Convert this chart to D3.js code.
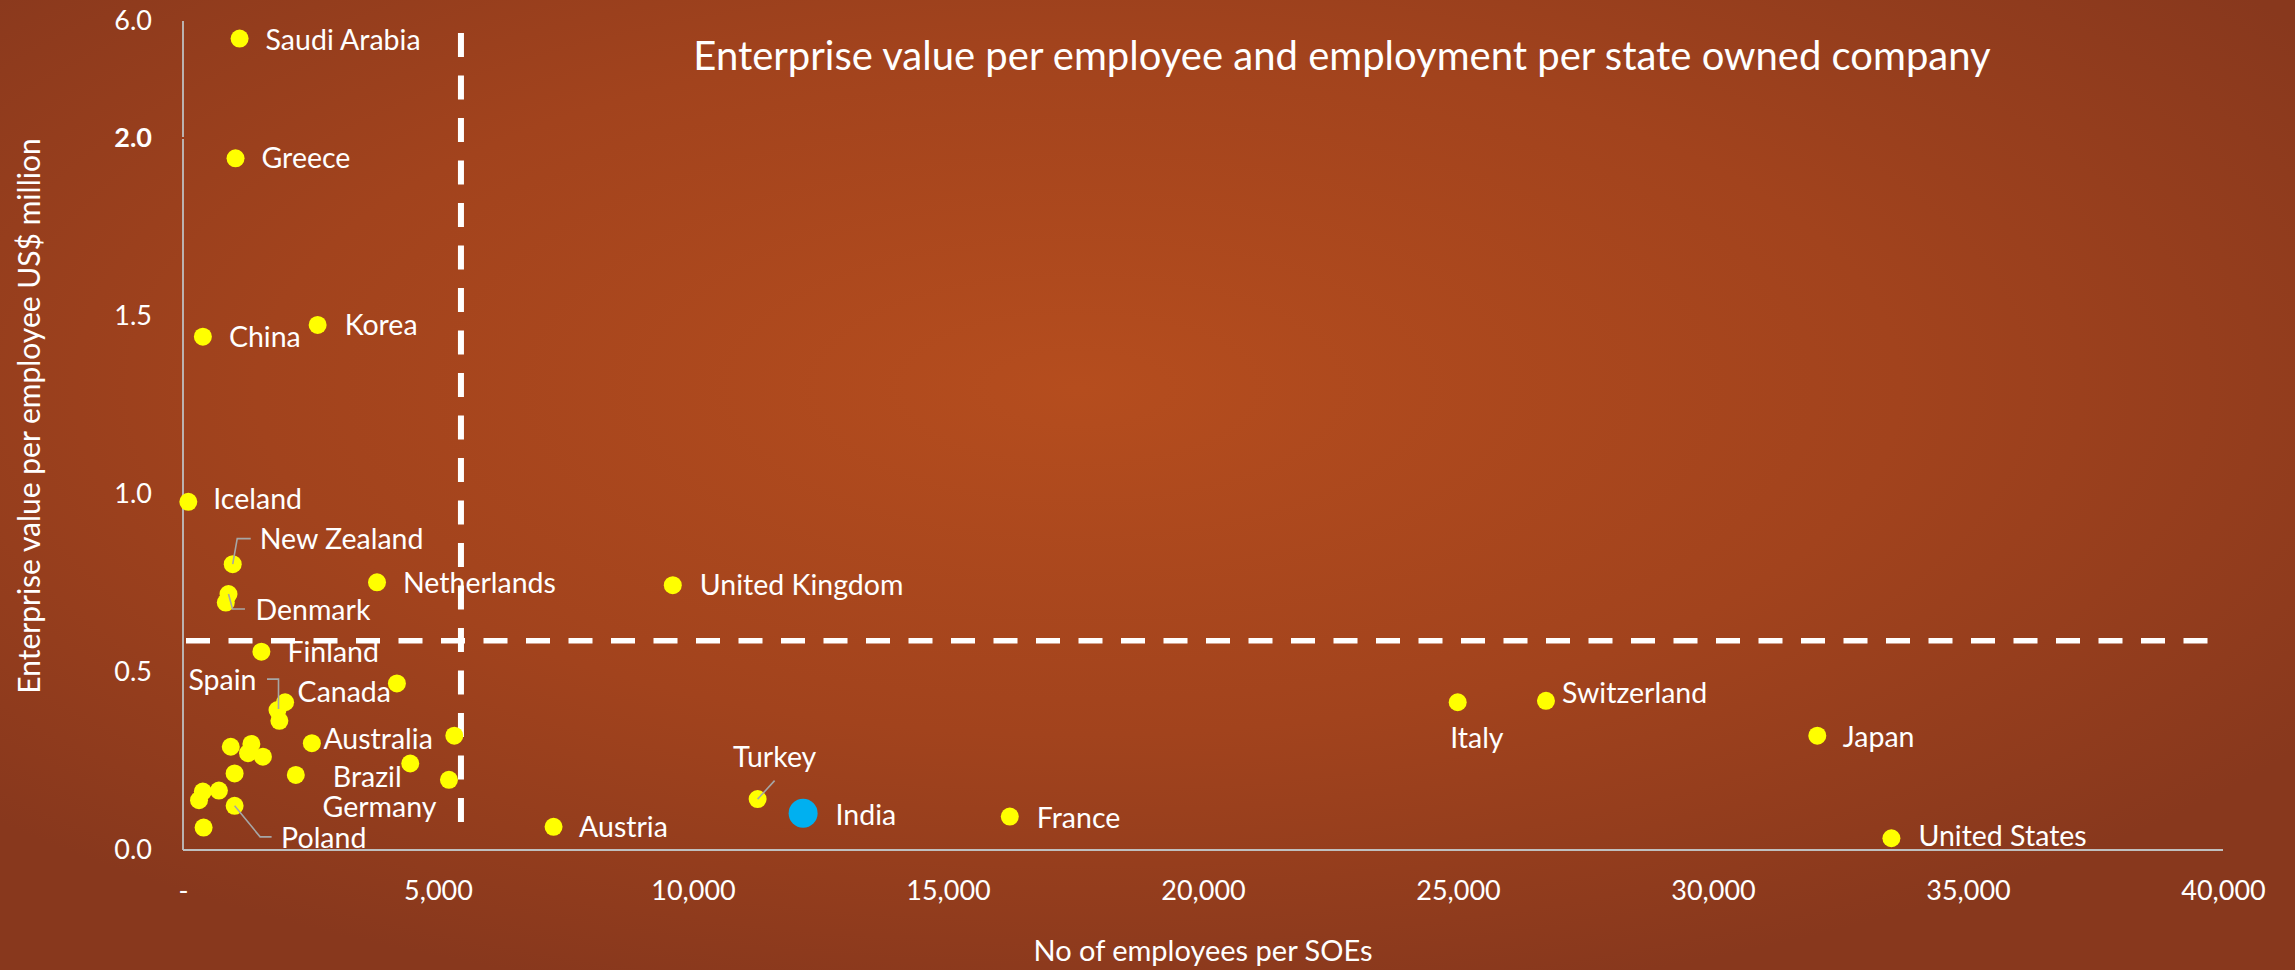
<!DOCTYPE html>
<html>
<head>
<meta charset="utf-8">
<script src="https://cdn.jsdelivr.net/npm/d3@7"></script>
<style>
  html, body { margin: 0; padding: 0; background: #8c3a1d; }
  svg { display: block; }
  text { font-family: Lato, "Open Sans", sans-serif; fill: #ffffff; }
</style>
</head>
<body>
<svg id="chart" width="2295" height="970"></svg>
<script>
// Country labels ("" = unlabelled point)
const countries = [
  "Saudi Arabia", "Greece", "China", "Korea", "Iceland", "New Zealand",
  "Denmark", "", "Netherlands", "United Kingdom", "Finland", "Spain", "",
  "Canada", "", "Australia", "", "", "Brazil", "Germany",
  "", "", "", "", "", "", "", "", "Poland", "",
  "Austria", "Turkey", "India", "France", "Italy", "Switzerland", "Japan",
  "United States"
];
// No of employees per SOE
const employees = [
  1110, 1030, 390, 2640, 104, 975,
  892, 839, 3804, 9604, 1537, 1853, 1890,
  2002, 4194, 2527, 5320, 4456, 2212, 5215,
  937, 1341, 1275, 1567, 1012, 389, 314, 704, 1012, 404,
  7266, 11267, 12159, 16212, 24994, 26725, 32045,
  33498
];
// Enterprise value per employee, US$ million
const evPerEmployee = [
  5.4, 1.943, 1.442, 1.475, 0.978, 0.803,
  0.719, 0.695, 0.752, 0.744, 0.557, 0.393, 0.363,
  0.415, 0.468, 0.300, 0.321, 0.243, 0.211, 0.197,
  0.290, 0.298, 0.272, 0.262, 0.215, 0.164, 0.140, 0.167, 0.124, 0.063,
  0.065, 0.143, 0.103, 0.094, 0.415, 0.419, 0.321,
  0.033
];
const highlighted = ["India"];

// Reference (average) lines
const avgEmployees = 5450;
const avgEV = 0.588;

// Axis ticks
const xTicks = [0, 5000, 10000, 15000, 20000, 25000, 30000, 35000, 40000];
const yTicks = [0, 0.5, 1.0, 1.5, 2.0, 6.0];

const title = "Enterprise value per employee and employment per state owned company";
const xTitle = "No of employees per SOEs";
const yTitle = "Enterprise value per employee US$ million";

const W = 2295, H = 970;
const svg = d3.select("#chart");

// background: radial orange glow
const defs = svg.append("defs");
const grad = defs.append("radialGradient").attr("id", "bg")
  .attr("cx", "47%").attr("cy", "40%").attr("r", "65%");
grad.append("stop").attr("offset", "0%").attr("stop-color", "#b54d1e");
grad.append("stop").attr("offset", "55%").attr("stop-color", "#a2431d");
grad.append("stop").attr("offset", "100%").attr("stop-color", "#88381d");
svg.append("rect").attr("width", W).attr("height", H).attr("fill", "url(#bg)");

// scales: y axis is broken above 2.0 (2 → 6 compressed)
const x = d3.scaleLinear().domain([0, 40000]).range([183, 2223]);
const y = d3.scaleLinear().domain([0, 2, 6]).range([850, 138, 21]);

// axis lines
const axisColor = "#bfbfbf";
svg.append("line").attr("x1", x(0)).attr("x2", x(40000))
  .attr("y1", y(0)).attr("y2", y(0))
  .attr("stroke", axisColor).attr("stroke-width", 1.8);
svg.append("line").attr("x1", x(0)).attr("x2", x(0))
  .attr("y1", y(0)).attr("y2", y(2) + 1)
  .attr("stroke", axisColor).attr("stroke-width", 1.8);
svg.append("line").attr("x1", x(0)).attr("x2", x(0))
  .attr("y1", y(2) - 1).attr("y2", y(6))
  .attr("stroke", axisColor).attr("stroke-width", 1.8);

// x axis tick labels
const xAxis = d3.axisBottom(x).tickValues(xTicks).tickSize(0).tickPadding(31)
  .tickFormat(d => d === 0 ? "-" : d3.format(",")(d));
const gx = svg.append("g").attr("transform", `translate(0,${y(0)})`).call(xAxis);
gx.select(".domain").remove();
gx.selectAll("text").attr("font-size", 27).attr("fill", "#fff")
  .style("font-family", "Lato, sans-serif");

// y axis tick labels
const yAxis = d3.axisLeft(y).tickValues(yTicks).tickSize(0).tickPadding(31)
  .tickFormat(d3.format(".1f"));
const gy = svg.append("g").attr("transform", `translate(${x(0)},0)`).call(yAxis);
gy.select(".domain").remove();
gy.selectAll("text").attr("font-size", 27).attr("fill", "#fff")
  .style("font-family", "Lato, sans-serif")
  .attr("font-weight", d => d === 2 ? 700 : 400);

// average reference lines
svg.append("line")
  .attr("x1", x(avgEmployees)).attr("x2", x(avgEmployees))
  .attr("y1", y(6) + 12).attr("y2", y(0) - 27)
  .attr("stroke", "#fff").attr("stroke-width", 6)
  .attr("stroke-dasharray", "24 18.5");
svg.append("line")
  .attr("x1", x(0) + 3).attr("x2", x(40000) + 2)
  .attr("y1", y(avgEV)).attr("y2", y(avgEV))
  .attr("stroke", "#fff").attr("stroke-width", 5.5)
  .attr("stroke-dasharray", "24 18.5");

// points
const points = countries.map((c, i) => ({ name: c, emp: employees[i], ev: evPerEmployee[i] }));

// label placement relative to the point: dx, dy to text start/baseline,
// optional anchor and leader line vertices
const labelLayout = {
  "Saudi Arabia": { dx: 26, dy: 11 },
  "Greece": { dx: 26, dy: 10 },
  "China": { dx: 26, dy: 10 },
  "Korea": { dx: 27, dy: 10 },
  "Iceland": { dx: 25, dy: 7.5 },
  "New Zealand": { dx: 27, dy: -15, leader: [[0, 0], [4.5, -25.5], [18, -25.5]] },
  "Denmark": { dx: 27, dy: 26, leader: [[0, 0], [4, 15], [16.5, 15]] },
  "Netherlands": { dx: 26, dy: 11 },
  "United Kingdom": { dx: 27, dy: 10 },
  "Finland": { dx: 26, dy: 10.5 },
  "Spain": { dx: -21, dy: -20.5, anchor: "end", leader: [[-10.5, -31], [1, -31], [1, -1]] },
  "Canada": { dx: 12.5, dy: -0.5 },
  "Australia": { dx: 11.5, dy: 6 },
  "Brazil": { dx: 37, dy: 12 },
  "Germany": { dx: -12.5, dy: 37, anchor: "end" },
  "Poland": { dx: 46.5, dy: 42.5, leader: [[0, 0], [25.5, 31], [37, 31]] },
  "Austria": { dx: 25.5, dy: 10 },
  "Turkey": { dx: -24.5, dy: -32, leader: [[0, 0], [17, -18.5]] },
  "India": { dx: 32.5, dy: 11.5 },
  "France": { dx: 27, dy: 11.5 },
  "Italy": { dx: -7.5, dy: 45.5 },
  "Switzerland": { dx: 16, dy: 2 },
  "Japan": { dx: 25.5, dy: 11 },
  "United States": { dx: 27, dy: 7.5 }
};

const gPts = svg.append("g");
gPts.selectAll("circle").data(points).join("circle")
  .attr("cx", d => x(d.emp)).attr("cy", d => y(d.ev))
  .attr("r", d => highlighted.includes(d.name) ? 14.5 : 9)
  .attr("fill", d => highlighted.includes(d.name) ? "#00b0f0" : "#ffff00");

const labelled = points.filter(d => d.name && labelLayout[d.name]);

// leader lines
svg.append("g").selectAll("polyline")
  .data(labelled.filter(d => labelLayout[d.name].leader)).join("polyline")
  .attr("points", d => labelLayout[d.name].leader
    .map(p => [x(d.emp) + p[0], y(d.ev) + p[1]].join(",")).join(" "))
  .attr("fill", "none").attr("stroke", "#a6a6a6").attr("stroke-width", 1.6);

svg.append("g").selectAll("text").data(labelled).join("text")
  .attr("x", d => x(d.emp) + labelLayout[d.name].dx)
  .attr("y", d => y(d.ev) + labelLayout[d.name].dy)
  .attr("text-anchor", d => labelLayout[d.name].anchor || "start")
  .attr("font-size", 28.5)
  .text(d => d.name);

// titles
svg.append("text").attr("x", 1342).attr("y", 70)
  .attr("text-anchor", "middle").attr("font-size", 40).text(title);
svg.append("text").attr("x", 1203).attr("y", 961)
  .attr("text-anchor", "middle").attr("font-size", 29).text(xTitle);
svg.append("text").attr("transform", "translate(40,416) rotate(-90)")
  .attr("text-anchor", "middle").attr("font-size", 30).text(yTitle);
</script>
</body>
</html>
